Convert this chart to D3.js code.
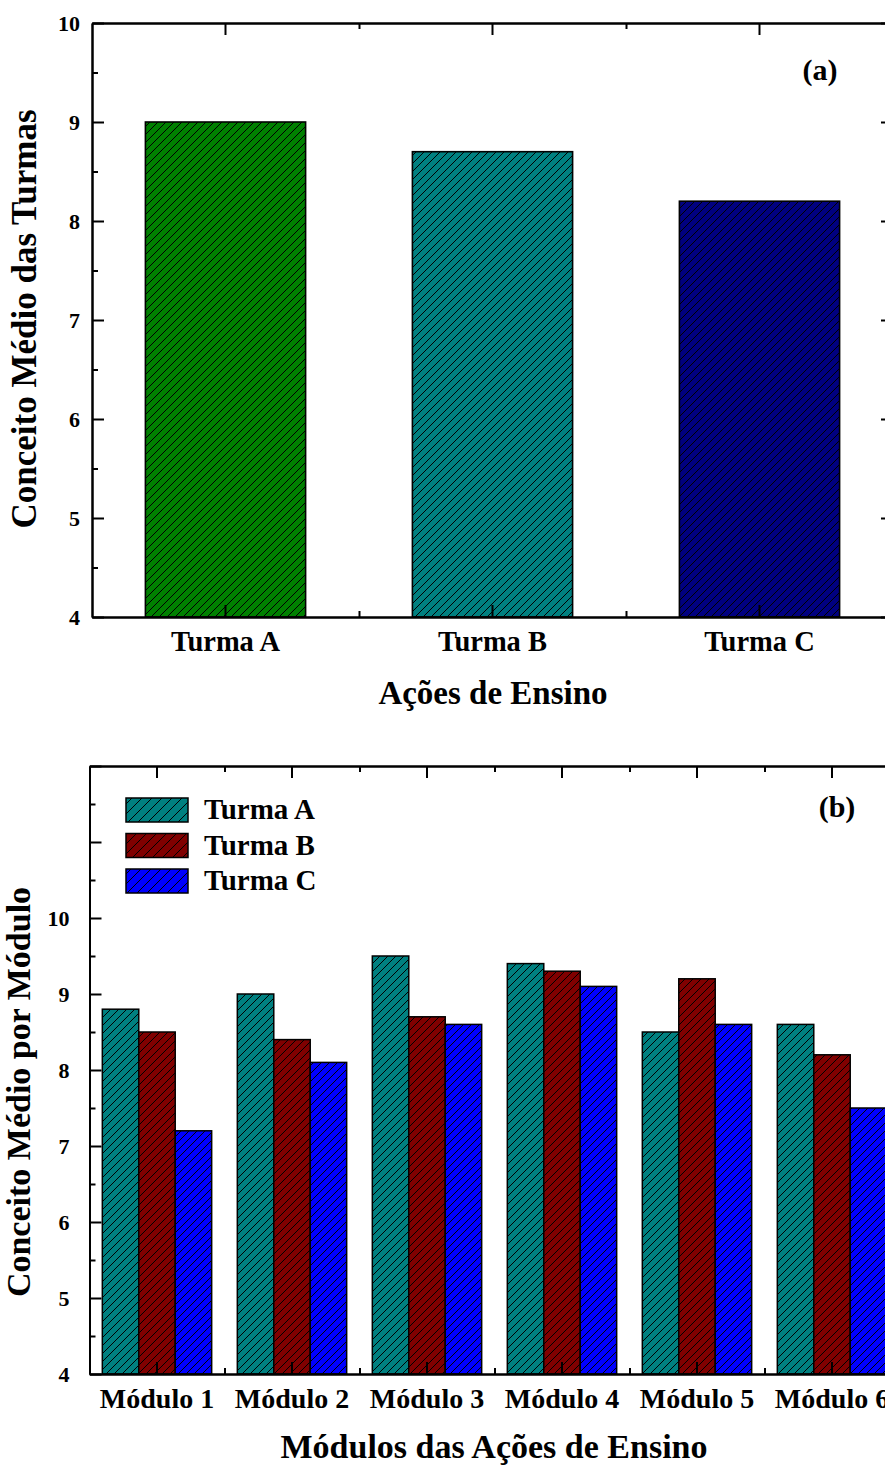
<!DOCTYPE html>
<html>
<head>
<meta charset="utf-8">
<script src="https://cdn.jsdelivr.net/npm/d3@7"></script>
<style>
  body { margin: 0; background: #fff; }
  svg { display: block; }
  text { font-family: "Liberation Serif", "Times New Roman", serif; font-weight: bold; fill: #000; }
</style>
</head>
<body>
<script>
// Panel (a): mean grade per class
const turmas = ["Turma A", "Turma B", "Turma C"];
const mediaTurmas = [9.0, 8.7, 8.2];
const coresTurmasA = ["#008000", "#008080", "#000080"];

// Panel (b): mean grade per module, for each class
const modulos = ["Módulo 1", "Módulo 2", "Módulo 3", "Módulo 4", "Módulo 5", "Módulo 6"];
const serieNomes = ["Turma A", "Turma B", "Turma C"];
const turmaA = [8.8, 9.0, 9.5, 9.4, 8.5, 8.6];
const turmaB = [8.5, 8.4, 8.7, 9.3, 9.2, 8.2];
const turmaC = [7.2, 8.1, 8.6, 9.1, 8.6, 7.5];
const coresSeries = ["#008080", "#800000", "#0000ff"];

const yTicksA = [4, 5, 6, 7, 8, 9, 10];
const yTicksB = [4, 5, 6, 7, 8, 9, 10];

const W = 885, H = 1468;
const svg = d3.select("body").append("svg").attr("width", W).attr("height", H);
svg.append("rect").attr("width", W).attr("height", H).attr("fill", "#fff");
const defs = svg.append("defs");

// diagonal hatch fill for each colour
function hatch(id, color, step) {
  const p = defs.append("pattern").attr("id", id)
    .attr("patternUnits", "userSpaceOnUse").attr("width", step).attr("height", step);
  p.append("rect").attr("width", step).attr("height", step).attr("fill", color);
  p.append("path")
    .attr("d", `M${-step / 2},${step / 2} L${step / 2},${-step / 2} M0,${step} L${step},0 M${step / 2},${step * 1.5} L${step * 1.5},${step / 2}`)
    .attr("stroke", "#000").attr("stroke-width", 1);
  return `url(#${id})`;
}
const fillA = coresTurmasA.map((c, i) => hatch("ha" + i, c, 8));
const fillB = coresSeries.map((c, i) => hatch("hb" + i, c, 8));
const fillLeg = coresSeries.map((c, i) => hatch("hl" + i, c, 10));

function styleAxis(g) {
  g.selectAll("path.domain").attr("stroke", "#000").attr("stroke-width", 2);
  g.selectAll(".tick line").attr("stroke", "#000").attr("stroke-width", 2);
  g.selectAll("text").attr("fill", "#000");
}

// ---------- Panel (a) ----------
{
  const L = 92, R = 893, T = 23, B = 617;
  const x = d3.scaleBand().domain(turmas).range([L, R]).paddingInner(0.4).paddingOuter(0.2);
  const idx = d3.scaleLinear().domain([0, turmas.length]).range([L, R]);
  const y = d3.scaleLinear().domain([4, 10]).range([B, T]);

  svg.append("g").selectAll("rect").data(mediaTurmas).join("rect")
    .attr("x", (d, i) => x(turmas[i])).attr("width", x.bandwidth())
    .attr("y", d => y(d)).attr("height", d => B - y(d))
    .attr("fill", (d, i) => fillA[i]).attr("stroke", "#000").attr("stroke-width", 1.6);

  const minorY = d3.range(4.5, 10, 1);
  const minorX = d3.range(1, turmas.length);

  // left
  svg.append("g").attr("transform", `translate(${L},0)`)
    .call(d3.axisLeft(y).tickValues(yTicksA).tickFormat(d3.format("d")).tickSize(-12).tickSizeOuter(0).tickPadding(12))
    .call(g => g.selectAll("text").style("font-size", "22px"))
    .call(styleAxis);
  svg.append("g").attr("transform", `translate(${L},0)`)
    .call(d3.axisLeft(y).tickValues(minorY).tickFormat("").tickSize(-6).tickSizeOuter(0)).call(styleAxis);
  // right
  svg.append("g").attr("transform", `translate(${R},0)`)
    .call(d3.axisRight(y).tickValues(yTicksA).tickFormat("").tickSize(-12).tickSizeOuter(0)).call(styleAxis);
  svg.append("g").attr("transform", `translate(${R},0)`)
    .call(d3.axisRight(y).tickValues(minorY).tickFormat("").tickSize(-6).tickSizeOuter(0)).call(styleAxis);
  // bottom
  svg.append("g").attr("transform", `translate(0,${B})`)
    .call(d3.axisBottom(x).tickSize(-12).tickSizeOuter(0).tickPadding(14))
    .call(g => g.selectAll("text").style("font-size", "28.5px"))
    .call(styleAxis);
  svg.append("g").attr("transform", `translate(0,${B})`)
    .call(d3.axisBottom(idx).tickValues(minorX).tickFormat("").tickSize(-6).tickSizeOuter(0)).call(styleAxis);
  // top
  svg.append("g").attr("transform", `translate(0,${T})`)
    .call(d3.axisTop(x).tickFormat("").tickSize(-12).tickSizeOuter(0)).call(styleAxis);
  svg.append("g").attr("transform", `translate(0,${T})`)
    .call(d3.axisTop(idx).tickValues(minorX).tickFormat("").tickSize(-6).tickSizeOuter(0)).call(styleAxis);

  svg.append("text").attr("x", 493).attr("y", 704).attr("text-anchor", "middle")
    .style("font-size", "33px").text("Ações de Ensino");
  svg.append("text").attr("transform", "translate(36,319) rotate(-90)").attr("text-anchor", "middle")
    .style("font-size", "35px").text("Conceito Médio das Turmas");
  svg.append("text").attr("x", 820).attr("y", 80).attr("text-anchor", "middle")
    .style("font-size", "30px").text("(a)");
}

// ---------- Panel (b) ----------
{
  const L = 89.5, R = 899.5, T = 766, B = 1374;
  const x0 = d3.scaleBand().domain(modulos).range([L, R]).paddingInner(0.19).paddingOuter(0.095);
  const x1 = d3.scaleBand().domain(serieNomes).range([0, x0.bandwidth()]);
  const idx = d3.scaleLinear().domain([0, modulos.length]).range([L, R]);
  const y = d3.scaleLinear().domain([4, 12]).range([B, T]);

  const series = [turmaA, turmaB, turmaC];
  const data = [];
  modulos.forEach((m, i) => series.forEach((s, j) => data.push({ m, s: serieNomes[j], j, v: s[i] })));

  svg.append("g").selectAll("rect").data(data).join("rect")
    .attr("x", d => x0(d.m) + x1(d.s)).attr("width", x1.bandwidth())
    .attr("y", d => y(d.v)).attr("height", d => B - y(d.v))
    .attr("fill", d => fillB[d.j]).attr("stroke", "#000").attr("stroke-width", 1.5);

  const majorY = d3.range(4, 13, 1);
  const minorY = d3.range(4.5, 12, 1);
  const minorX = d3.range(1, modulos.length);

  // left
  svg.append("g").attr("transform", `translate(${L},0)`)
    .call(d3.axisLeft(y).tickValues(majorY).tickFormat(d => yTicksB.includes(d) ? d3.format("d")(d) : "")
      .tickSize(-12).tickSizeOuter(0).tickPadding(20))
    .call(g => g.selectAll("text").style("font-size", "22px"))
    .call(styleAxis);
  svg.append("g").attr("transform", `translate(${L},0)`)
    .call(d3.axisLeft(y).tickValues(minorY).tickFormat("").tickSize(-6).tickSizeOuter(0)).call(styleAxis);
  // right
  svg.append("g").attr("transform", `translate(${R},0)`)
    .call(d3.axisRight(y).tickValues(majorY).tickFormat("").tickSize(-12).tickSizeOuter(0)).call(styleAxis);
  svg.append("g").attr("transform", `translate(${R},0)`)
    .call(d3.axisRight(y).tickValues(minorY).tickFormat("").tickSize(-6).tickSizeOuter(0)).call(styleAxis);
  // bottom
  svg.append("g").attr("transform", `translate(0,${B})`)
    .call(d3.axisBottom(x0).tickSize(-12).tickSizeOuter(0).tickPadding(14))
    .call(g => g.selectAll("text").style("font-size", "28px"))
    .call(styleAxis);
  svg.append("g").attr("transform", `translate(0,${B})`)
    .call(d3.axisBottom(idx).tickValues(minorX).tickFormat("").tickSize(-6).tickSizeOuter(0)).call(styleAxis);
  // top
  svg.append("g").attr("transform", `translate(0,${T})`)
    .call(d3.axisTop(x0).tickFormat("").tickSize(-12).tickSizeOuter(0)).call(styleAxis);
  svg.append("g").attr("transform", `translate(0,${T})`)
    .call(d3.axisTop(idx).tickValues(minorX).tickFormat("").tickSize(-6).tickSizeOuter(0)).call(styleAxis);

  // legend
  const leg = svg.append("g");
  serieNomes.forEach((n, j) => {
    const yy = 798 + j * 35.5;
    leg.append("rect").attr("x", 126).attr("y", yy).attr("width", 62).attr("height", 24)
      .attr("fill", fillLeg[j]).attr("stroke", "#000").attr("stroke-width", 1.5);
    leg.append("text").attr("x", 204).attr("y", yy + 21).style("font-size", "29px").text(n);
  });

  svg.append("text").attr("x", 494).attr("y", 1458).attr("text-anchor", "middle")
    .style("font-size", "34px").text("Módulos das Ações de Ensino");
  svg.append("text").attr("transform", "translate(30,1092) rotate(-90)").attr("text-anchor", "middle")
    .style("font-size", "34px").text("Conceito Médio por Módulo");
  svg.append("text").attr("x", 837).attr("y", 817).attr("text-anchor", "middle")
    .style("font-size", "30px").text("(b)");
}
</script>
</body>
</html>
